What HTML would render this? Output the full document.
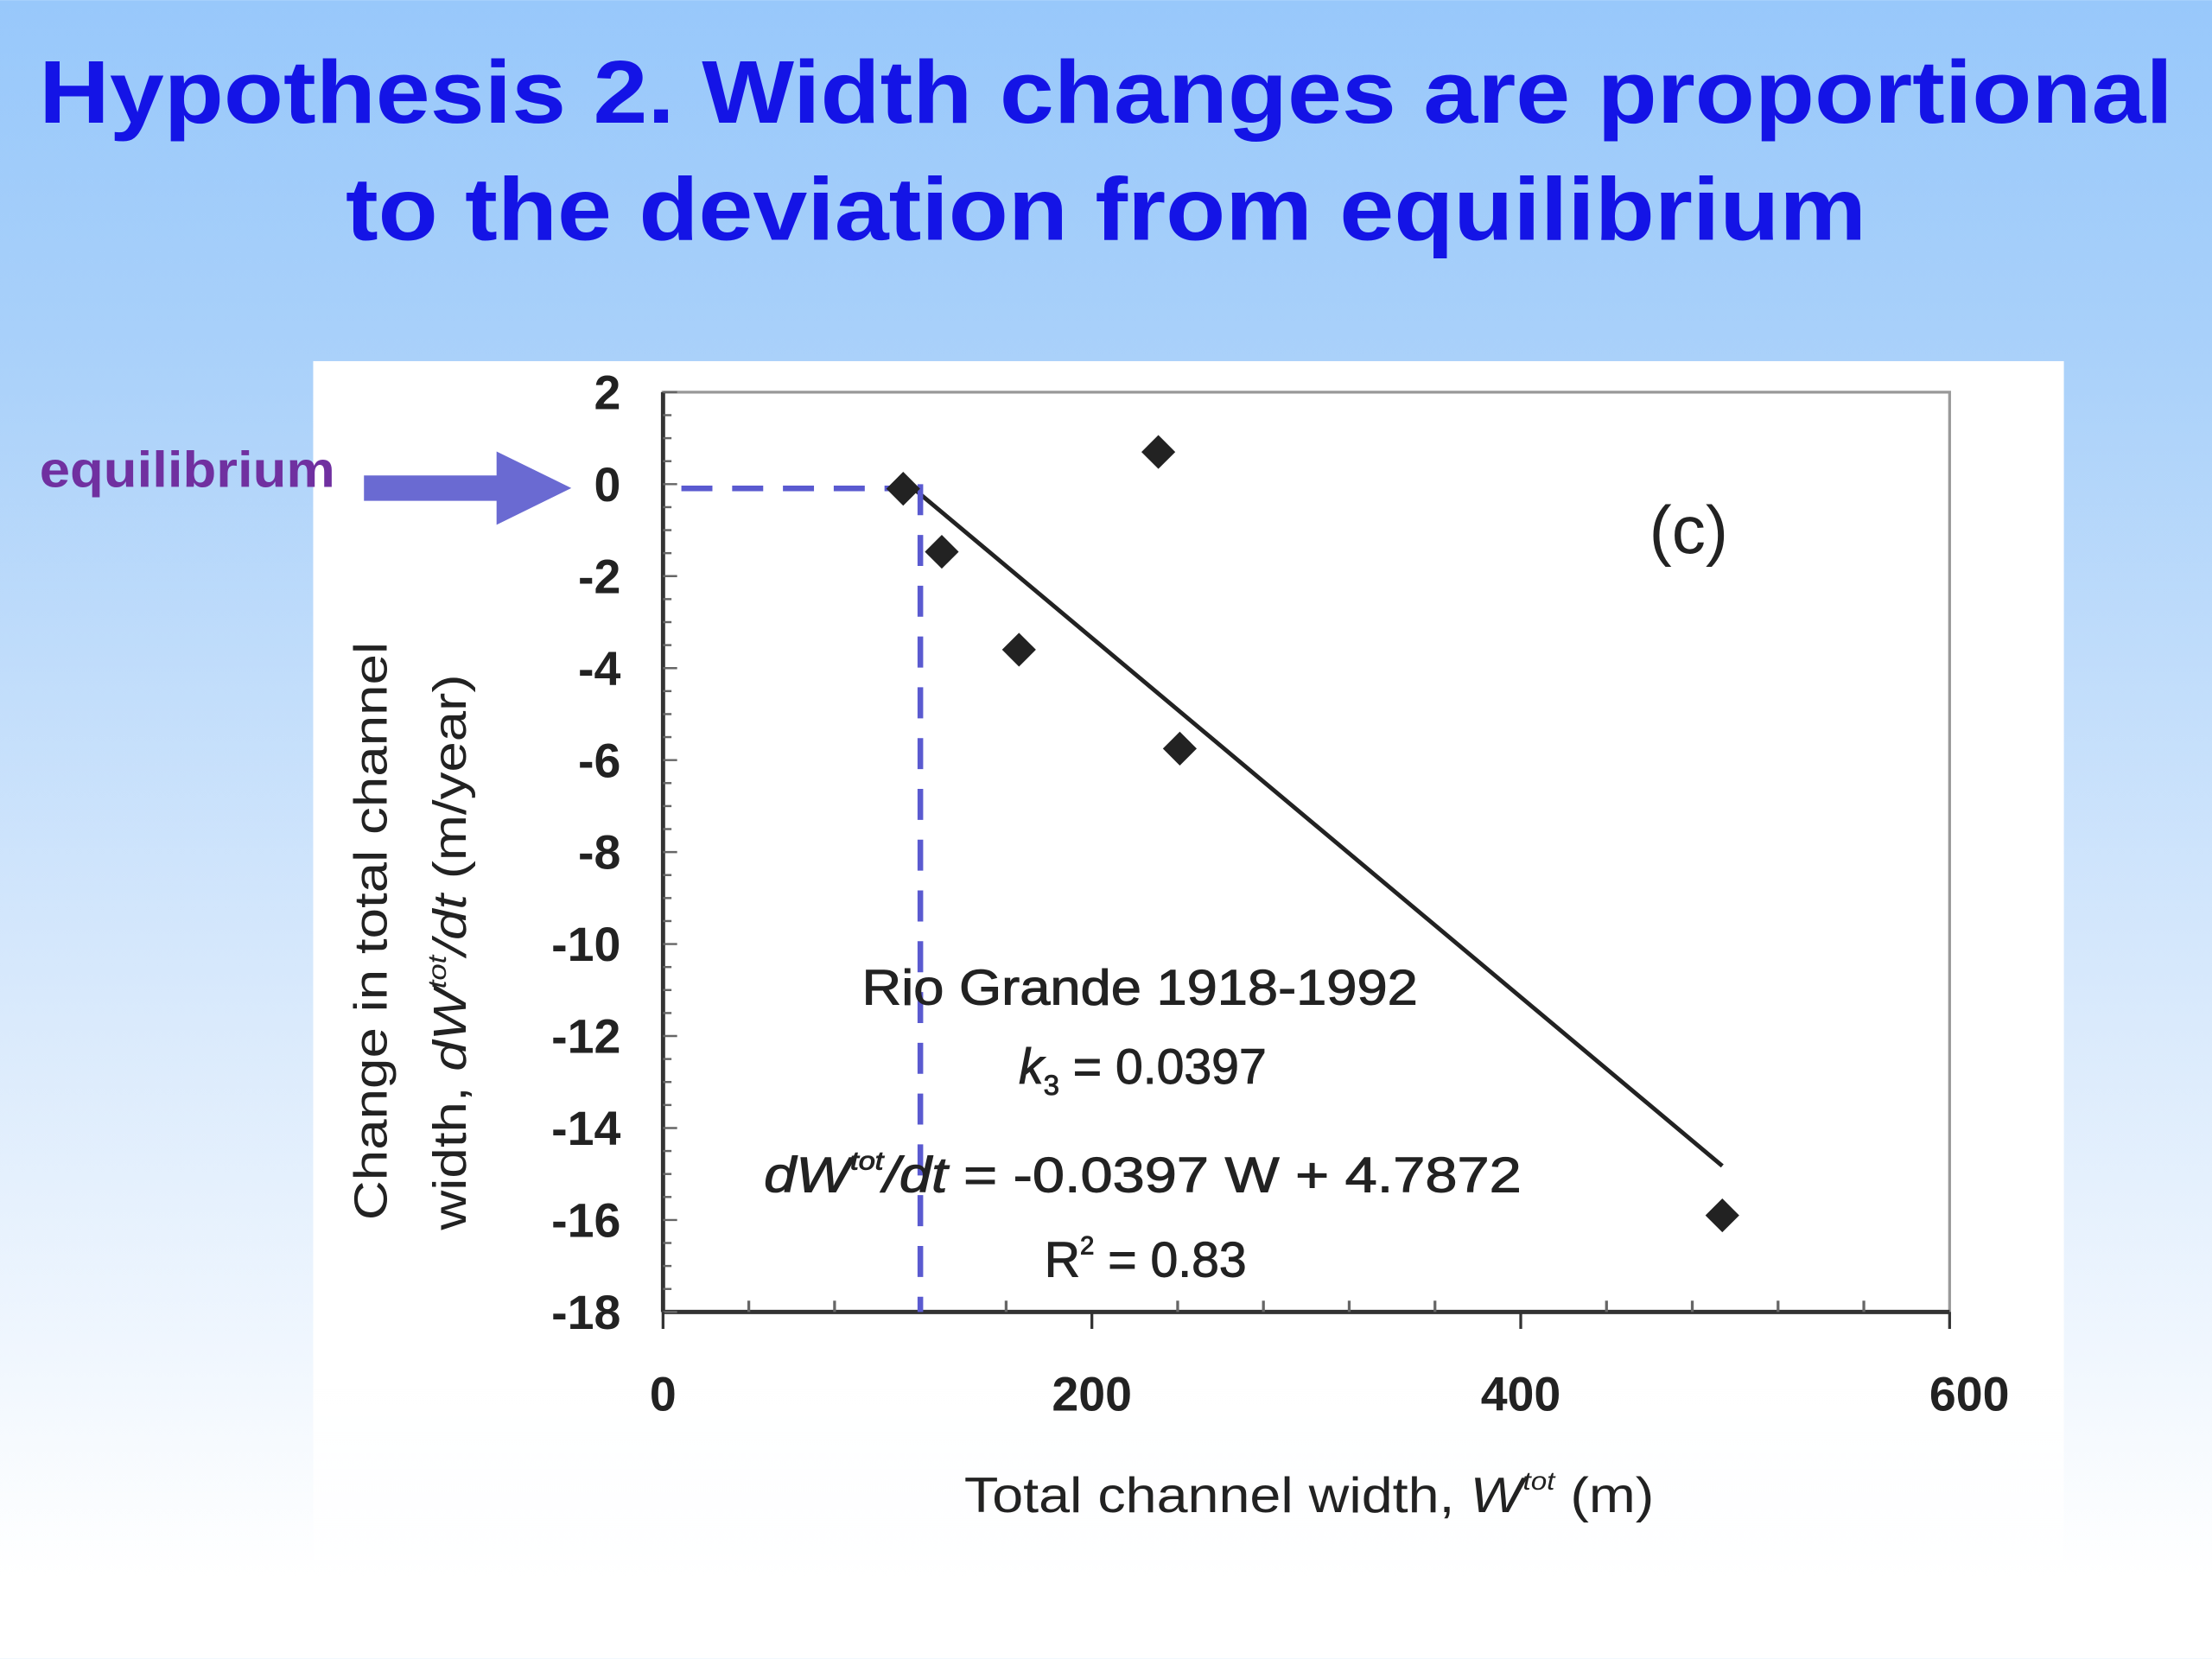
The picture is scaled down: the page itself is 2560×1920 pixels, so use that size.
<!DOCTYPE html>
<html><head><meta charset="utf-8"><style>
html,body{margin:0;padding:0}
body{width:2560px;height:1920px;overflow:hidden;background:linear-gradient(#98c8fb 0%,#a8d0fa 20%,#d8e9fc 60%,#ffffff 95%);font-family:"Liberation Sans",sans-serif}
#s{position:absolute;left:0;top:0;width:1568px;height:1176px;transform:scale(1.63265);transform-origin:0 0}
.t{position:absolute;left:0;width:1568px;text-align:center;color:#1414e6;font-weight:bold;font-size:63px;transform:scaleX(1.1);transform-origin:784px 0}
</style></head><body>
<div id="s">
<div class="t" style="top:30px">Hypothesis 2. Width changes are proportional</div>
<div class="t" style="top:113px">to the deviation from equilibrium</div>
<div style="position:absolute;left:222px;top:256px;width:1241px;height:850px;background:linear-gradient(#fff 85%,rgba(255,255,255,0.6))"></div>
<div style="position:absolute;left:28px;top:312px;color:#7030a0;font-weight:bold;font-size:36px;transform:scaleX(1.08);transform-origin:0 0">equilibrium</div>
<svg width="1568" height="1176" style="position:absolute;left:0;top:0">
<g id="g"></g>
</svg>
</div>
<script>
const xTicks=[0,200,400,600];
const yTicks=[2,0,-2,-4,-6,-8,-10,-12,-14,-16,-18];
const ptsW=[112,130,166,231,241,494];
const ptsD=[-0.1,-1.47,-3.6,0.7,-5.75,-15.9];
const fitW=[115,494];
const slope=-0.0397, intercept=4.7872;
const eqW=120;
const X=v=>470+v*(912/600);
const Y=v=>343.2-v*32.6;
const g=document.getElementById('g');
const NS='http://www.w3.org/2000/svg';
function mk(t,a,txt){const e=document.createElementNS(NS,t);for(const k in a)e.setAttribute(k,a[k]);if(txt!==undefined)e.textContent=txt;g.appendChild(e);return e;}
let e;
e=mk('rect',{x:X(0),y:Y(2),width:X(600)-X(0),height:Y(-18)-Y(2),fill:'none',stroke:'#999','stroke-width':2});

e=mk('line',{x1:X(0),y1:Y(2),x2:X(0),y2:Y(-18),stroke:'#333','stroke-width':3});

e=mk('line',{x1:X(0),y1:Y(-18),x2:X(600),y2:Y(-18),stroke:'#333','stroke-width':3});

for(let v=2;v>=-18;v-=0.5){e=mk('line',{x1:X(0),y1:Y(v),x2:X(0)+(v%2===0?10:6),y2:Y(v),stroke:'#666','stroke-width':1.5});
}
for(let v=0;v<=600;v+=40){e=mk('line',{x1:X(v),y1:Y(-18),x2:X(v),y2:Y(-18)-(v%200===0?0:8),stroke:'#666','stroke-width':2});
}
xTicks.forEach(v=>{e=mk('line',{x1:X(v),y1:Y(-18),x2:X(v),y2:Y(-18)+12,stroke:'#333','stroke-width':2});

e=mk('text',{x:X(v)+(v===600?14:0),y:1000,'text-anchor':'middle','font-size':34,'font-weight':'bold',fill:'#222'},v);
});
yTicks.forEach(v=>{e=mk('text',{x:440,y:Y(v)+12,'text-anchor':'end','font-size':34,'font-weight':'bold',fill:'#222'},v);
});
e=mk('line',{x1:X(fitW[0]),y1:Y(slope*fitW[0]+intercept)+8,x2:X(fitW[1]),y2:Y(slope*fitW[1]+intercept),stroke:'#222','stroke-width':3});

e=mk('line',{x1:483,y1:Y(0)+3,x2:X(eqW)-15,y2:Y(0)+3,stroke:'#5a5ad0','stroke-width':4,'stroke-dasharray':'22 14'});

e=mk('line',{x1:X(eqW),y1:Y(0),x2:X(eqW),y2:Y(-18),stroke:'#5a5ad0','stroke-width':4,'stroke-dasharray':'22 14'});

ptsW.forEach((w,i)=>{const cx=X(w),cy=Y(ptsD[i]);e=mk('polygon',{points:`${cx},${cy-12} ${cx+12},${cy} ${cx},${cy+12} ${cx-12},${cy}`,fill:'#222'});
});
e=mk('polygon',{points:'258,337 352,337 352,320 405,346 352,372 352,355 258,355',fill:'#6a6ad2'});

function txt(name,x,y,s,size,extra){e=mk('text',Object.assign({x:x,y:y,'text-anchor':'middle','font-size':size,fill:'#222'},extra||{}));e.innerHTML=s;
}
txt('panel-label',1197,392,'(c)',48);
txt('annotation-site',808,712,'Rio Grande 1918-1992',35,{textLength:394,lengthAdjust:'spacingAndGlyphs','stroke':'#222','stroke-width':0.6});
txt('annotation-k3',810,768,'<tspan font-style="italic">k</tspan><tspan font-size="20" dy="8">3</tspan><tspan dy="-8"> = 0.0397</tspan>',35,{'stroke':'#222','stroke-width':0.6});
txt('annotation-equation',810,845,'<tspan font-style="italic">dW</tspan><tspan font-size="18" dy="-16" font-style="italic">tot</tspan><tspan dy="16" font-style="italic">/dt</tspan> = -0.0397 W + 4.7872',35,{textLength:537,lengthAdjust:'spacingAndGlyphs','stroke':'#222','stroke-width':0.6});
txt('annotation-r2',812,905,'R<tspan font-size="18" dy="-16">2</tspan><tspan dy="16"> = 0.83</tspan>',35,{'stroke':'#222','stroke-width':0.6});
txt('x-axis-title',928,1072,'Total channel width, <tspan font-style="italic">W</tspan><tspan font-size="18" dy="-16" font-style="italic">tot</tspan><tspan dy="16"> (m)</tspan>',35,{textLength:489,lengthAdjust:'spacingAndGlyphs'});
txt('y-axis-title-line-1',0,0,'Change in total channel',33,{transform:'translate(274,660) rotate(-90)',textLength:410,lengthAdjust:'spacingAndGlyphs'});
txt('y-axis-title-line-2',0,0,'width, <tspan font-style="italic">dW</tspan><tspan font-size="18" dy="-14" font-style="italic">tot</tspan><tspan dy="14" font-style="italic">/dt</tspan> (m/year)',33,{transform:'translate(330,675) rotate(-90)',textLength:394,lengthAdjust:'spacingAndGlyphs'});
</script>
</body></html>
